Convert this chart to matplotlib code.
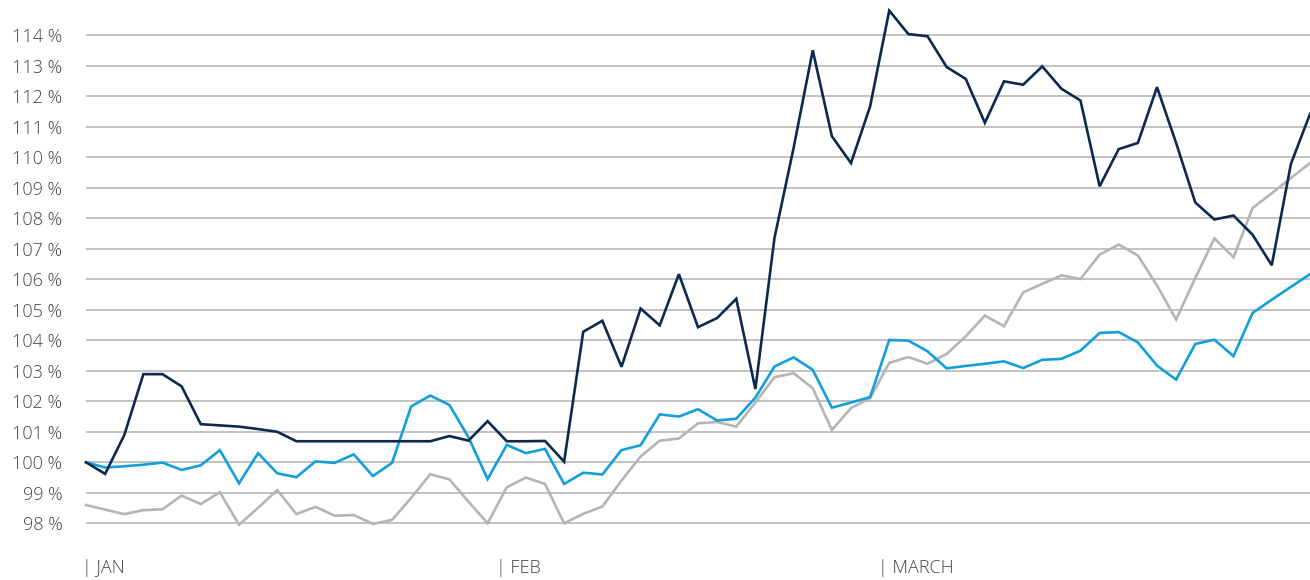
import matplotlib
matplotlib.use("Agg")
import matplotlib.pyplot as plt
import matplotlib.transforms as mtransforms
from matplotlib.ticker import FixedLocator

# Trading-day index (0 = first trading day in January)
navy_x = list(range(65))
navy_vals = [100.0, 99.62, 100.89, 102.89, 102.89, 102.49, 101.25, 101.21, 101.17, 101.09,
             101.0, 100.69, 100.69, 100.69, 100.69, 100.69, 100.69, 100.69, 100.69, 100.86,
             100.71, 101.35, 100.69, 100.69, 100.70, 100.02, 104.28, 104.64, 103.13, 105.04,
             104.49, 106.17, 104.43, 104.73, 105.36, 102.40, 107.36, 110.31, 113.51, 110.69,
             109.81, 111.67, 114.81, 114.04, 113.97, 112.96, 112.57, 111.13, 112.49, 112.38,
             112.98, 112.25, 111.86, 109.05, 110.27, 110.47, 112.30, 110.47, 108.52, 107.96,
             108.09, 107.46, 106.46, 109.78, 111.42]

blue_x = list(range(65))
blue_vals = [100.0, 99.83, 99.87, 99.92, 99.99, 99.75, 99.90, 100.40, 99.31, 100.30,
             99.64, 99.51, 100.03, 99.98, 100.26, 99.55, 99.98, 101.83, 102.19, 101.88,
             100.82, 99.45, 100.57, 100.30, 100.44, 99.29, 99.66, 99.60, 100.40, 100.56,
             101.57, 101.50, 101.74, 101.37, 101.43, 102.12, 103.14, 103.44, 103.03, 101.79,
             101.96, 102.14, 104.01, 103.99, 103.64, 103.08, 103.16, 103.23, 103.31, 103.09,
             103.36, 103.39, 103.66, 104.24, 104.27, 103.93, 103.17, 102.71, 103.88, 104.02,
             103.48, 104.90, 105.33, 105.75, 106.17]

grey_x = list(range(65))
grey_vals = [98.60, 98.45, 98.30, 98.43, 98.46, 98.91, 98.63, 99.02, 97.95, 98.51,
             99.09, 98.30, 98.54, 98.25, 98.27, 97.98, 98.11, 98.83, 99.61, 99.44,
             98.71, 98.00, 99.18, 99.50, 99.29, 98.00, 98.31, 98.55, 99.40, 100.19,
             100.71, 100.78, 101.28, 101.32, 101.17, 101.96, 102.79, 102.92, 102.43, 101.06,
             101.78, 102.10, 103.26, 103.45, 103.23, 103.55, 104.13, 104.81, 104.46, 105.57,
             105.85, 106.13, 106.01, 106.81, 107.14, 106.78, 105.80, 104.68, 106.04, 107.34,
             106.72, 108.34, 108.82, 109.32, 109.81]

y_ticks = list(range(98, 115))
month_labels = ["| JAN", "| FEB", "| MARCH"]
month_pos = [0, 21.65, 41.62]

NAVY = "#0b2a4e"
BLUE = "#139fdb"
GREY = "#b5b5b5"
GRID = "#bdbdbd"
TEXT = "#444444"

plt.rcParams['font.family'] = ['Open Sans', 'DejaVu Sans']

fig = plt.figure(figsize=(13.1, 5.8), dpi=100)
ax = fig.add_axes([86 / 1310, 41.45 / 580, 1224 / 1310, 533.75 / 580])

ax.plot(grey_x, grey_vals, color=GREY, lw=1.9, solid_joinstyle='miter', zorder=3, clip_on=False)
ax.plot(blue_x, blue_vals, color=BLUE, lw=1.9, solid_joinstyle='miter', zorder=4, clip_on=False)
ax.plot(navy_x, navy_vals, color=NAVY, lw=1.9, solid_joinstyle='miter', zorder=5, clip_on=False)

ax.set_xlim(0, 64)
ax.set_ylim(97.5, 115)
ax.yaxis.set_major_locator(FixedLocator(y_ticks))
ax.set_yticklabels([f"{v} %" for v in y_ticks], fontweight='light')
ax.set_xticks([])

ax.grid(axis='y', color=GRID, lw=1.3, zorder=0)
ax.set_axisbelow(True)
for s in ax.spines.values():
    s.set_visible(False)
ax.tick_params(axis='y', length=0, pad=17, labelsize=13, labelcolor=TEXT)

trans = mtransforms.blended_transform_factory(ax.transData, ax.transAxes)
offset = mtransforms.ScaledTranslation(-4 / 100, 0, fig.dpi_scale_trans)
for pos, lab in zip(month_pos, month_labels):
    ax.text(pos, -0.055, lab, transform=trans + offset, ha='left', va='center',
            fontsize=13, fontweight='light', color=TEXT, clip_on=False)

fig.savefig("out.png", dpi=100)
